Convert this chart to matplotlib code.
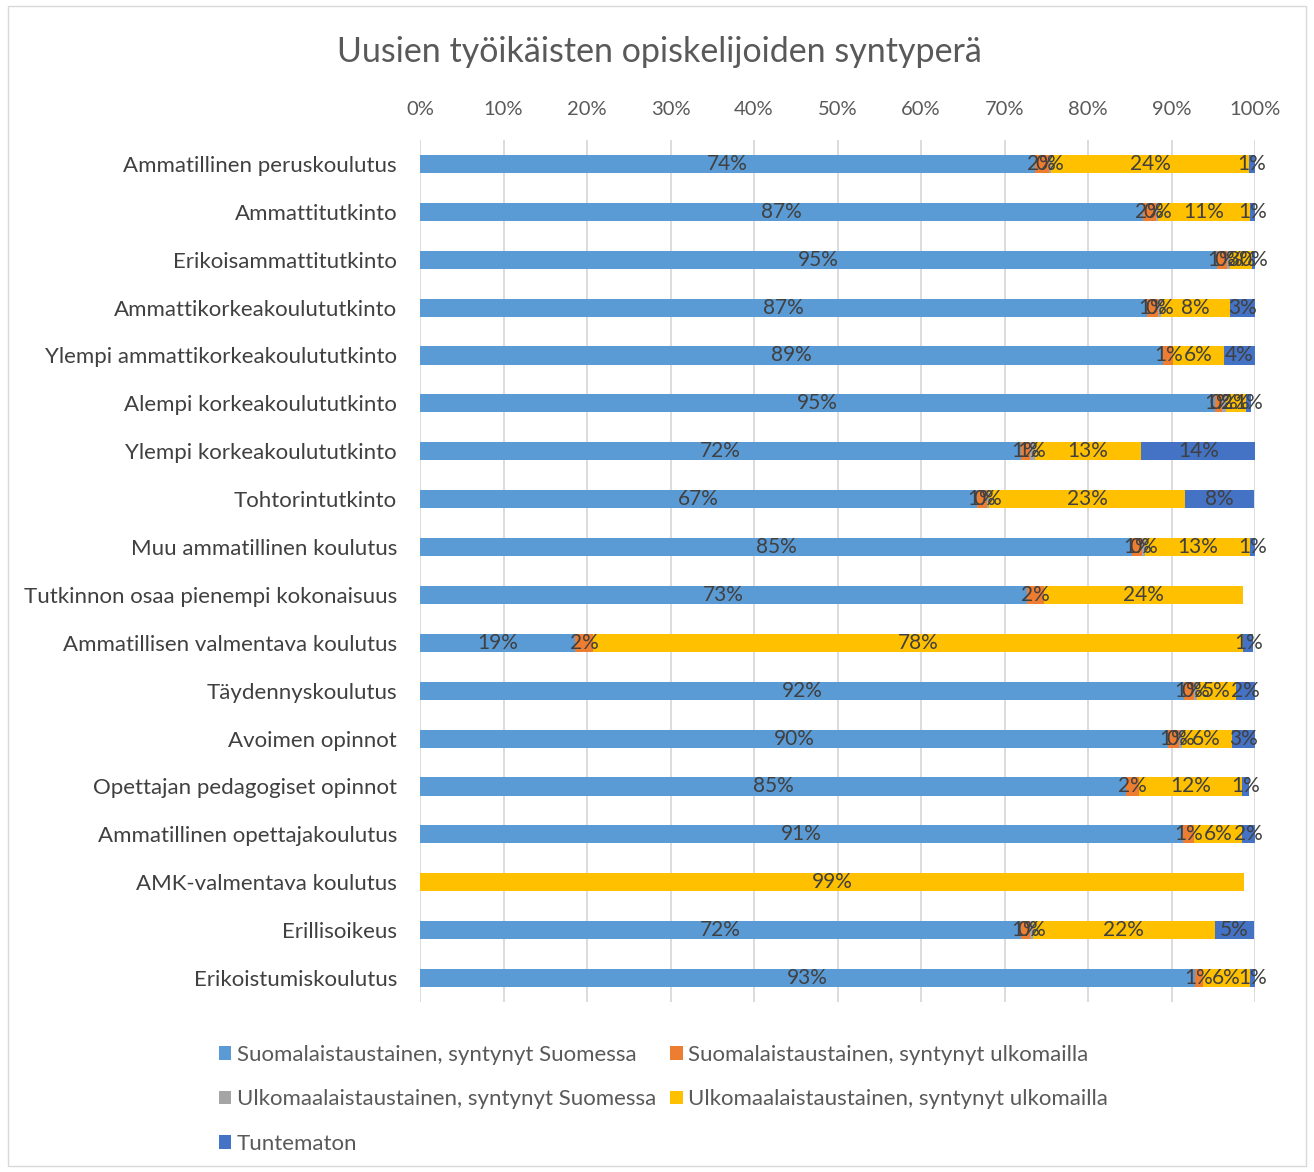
import numpy as np
import matplotlib

matplotlib.use("Agg")
import matplotlib.pyplot as plt
from matplotlib.patches import Rectangle, Patch

plt.rcParams["font.family"] = ["Lato", "DejaVu Sans"]

TITLE = "Uusien työikäisten opiskelijoiden syntyperä"

categories = [
    "Ammatillinen peruskoulutus",
    "Ammattitutkinto",
    "Erikoisammattitutkinto",
    "Ammattikorkeakoulututkinto",
    "Ylempi ammattikorkeakoulututkinto",
    "Alempi korkeakoulututkinto",
    "Ylempi korkeakoulututkinto",
    "Tohtorintutkinto",
    "Muu ammatillinen koulutus",
    "Tutkinnon osaa pienempi kokonaisuus",
    "Ammatillisen valmentava koulutus",
    "Täydennyskoulutus",
    "Avoimen opinnot",
    "Opettajan pedagogiset opinnot",
    "Ammatillinen opettajakoulutus",
    "AMK-valmentava koulutus",
    "Erillisoikeus",
    "Erikoistumiskoulutus",
]

series_names = [
    "Suomalaistaustainen, syntynyt Suomessa",
    "Suomalaistaustainen, syntynyt ulkomailla",
    "Ulkomaalaistaustainen, syntynyt Suomessa",
    "Ulkomaalaistaustainen, syntynyt ulkomailla",
    "Tuntematon",
]
colors = ["#5B9BD5", "#ED7D31", "#A5A5A5", "#FFC000", "#4472C4"]

nan = np.nan
# percentages per category (NaN = no value, no label)
fi_fi = [73.6, 86.6, 95.4, 87.1, 89.0, 95.2, 72.0, 66.7, 85.3, 72.7,
         18.6, 91.5, 89.6, 84.6, 91.4, nan, 72.0, 92.8]
fi_abroad = [1.7, 1.6, 1.3, 1.3, 1.2, 0.9, 1.0, 1.2, 1.2, 2.0,
             2.1, 1.2, 1.3, 1.5, 1.3, nan, 1.1, 1.0]
for_fi = [0.3, 0.2, 0.3, 0.3, nan, 0.4, 0.6, 0.3, 0.3, nan,
          nan, 0.3, 0.3, nan, nan, nan, 0.3, nan]
for_abroad = [23.7, 11.0, 2.7, 8.3, 6.1, 2.4, 12.8, 23.4, 12.6, 23.9,
              77.9, 4.7, 6.0, 12.3, 5.7, 98.7, 21.8, 5.6]
unknown = [0.7, 0.6, 0.3, 3.0, 3.7, 0.6, 13.6, 8.3, 0.7, nan,
           1.2, 2.3, 2.8, 0.9, 1.6, nan, 4.7, 0.6]

series = [fi_fi, fi_abroad, for_fi, for_abroad, unknown]

fig = plt.figure(figsize=(13.14, 11.72), dpi=100)
ax = fig.add_axes([420 / 1314, 1 - 1002 / 1172, 835 / 1314, 862 / 1172])

y = np.arange(len(categories))
left = np.zeros(len(categories))
handles = []
for vals, name, col in zip(series, series_names, colors):
    v = np.array(vals, dtype=float)
    w = np.nan_to_num(v)
    ax.barh(y, w, left=left, height=0.38, color=col, zorder=2)
    for yi, (val, l0) in enumerate(zip(v, left)):
        if np.isnan(val):
            continue
        ax.text(l0 + val / 2, yi, f"{val:.0f}%", ha="center", va="center",
                fontsize=15, color="#404040", zorder=3)
    left += w
    handles.append(Patch(facecolor=col, edgecolor="none", label=name))

ax.set_xlim(0, 100)
ax.set_ylim(len(categories) - 0.5, -0.5)
ax.set_xticks(np.arange(0, 101, 10))
ax.set_xticklabels([f"{t}%" for t in range(0, 101, 10)])
ax.xaxis.tick_top()
ax.tick_params(axis="x", length=0, labelsize=14.5, labelcolor="#595959", pad=16)
ax.set_yticks(y)
ax.set_yticklabels(categories)
ax.tick_params(axis="y", length=0, labelsize=16, labelcolor="#404040", pad=16.5)
ax.grid(axis="x", color="#D9D9D9", linewidth=1.3, zorder=0)
ax.set_axisbelow(True)
for s in ax.spines.values():
    s.set_visible(False)

fig.text(659 / 1314, 1 - 52 / 1172, TITLE, ha="center", va="center",
         fontsize=24.5, color="#595959")

order = [0, 2, 4, 1, 3]
fig.legend([handles[i] for i in order], [series_names[i] for i in order],
           loc="upper left", bbox_to_anchor=(210 / 1314, 1 - 1036 / 1172),
           ncol=2, frameon=False, fontsize=16, labelcolor="#595959",
           handlelength=0.55, handleheight=0.55, handletextpad=0.25,
           columnspacing=0.65, labelspacing=1.1, borderaxespad=0)

fig.add_artist(Rectangle((8 / 1314, 6 / 1172), 1298 / 1314, 1160 / 1172,
                         transform=fig.transFigure, fill=False,
                         edgecolor="#D9D9D9", linewidth=1))

fig.savefig("out.png", dpi=100)
